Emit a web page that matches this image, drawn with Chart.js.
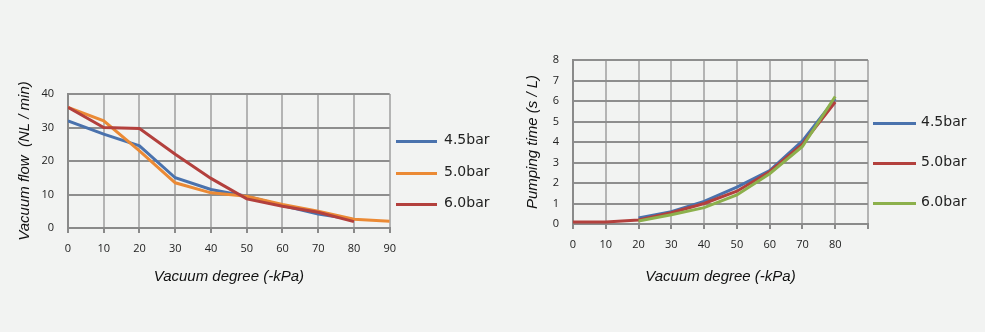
<!DOCTYPE html>
<html lang="en">
<head>
  <meta charset="UTF-8" />
  <title>Vacuum flow / Pumping time</title>
  <style>
    html, body {
      margin: 0; padding: 0;
      width: 985px; height: 332px;
      background: #f2f3f2;
      overflow: hidden; position: relative;
      font-family: 'DejaVu Sans', sans-serif;
    }
    .box { position: absolute; top: 0; height: 300px; }
    #flowBox { left: 0; width: 405px; }
    #timeBox { left: 500px; width: 377px; }
    .legend { position: absolute; font-size: 14px; color: #222; }
    .legend .item { position: absolute; white-space: nowrap; }
    .legend .swatch { position: absolute; top: 0; height: 3px; }
    .legend .label { position: absolute; top: -9px; }
  </style>
  <script src="https://cdn.jsdelivr.net/npm/chart.js"></script>
</head>
<body>
  <div class="box" id="flowBox"><canvas id="flowChart"></canvas></div>
  <div class="box" id="timeBox"><canvas id="timeChart"></canvas></div>
  <div class="legend" id="flowLegend"></div>
  <div class="legend" id="timeLegend"></div>

  <script>
    // ─── Data ────────────────────────────────────────────
    const kpa = [0, 10, 20, 30, 40, 50, 60, 70, 80, 90];

    // left: vacuum flow (NL/min)
    const flowNames  = ['4.5bar', '5.0bar', '6.0bar'];
    const flowColors = ['#4a72ad', '#eb8a35', '#b3403d'];
    const flow45 = [32, 28, 24.5, 15, 11.5, 9.5, 6.7, 4.2, 2.5, null];
    const flow50 = [36, 32, 23, 13.5, 10.5, 9.5, 7, 5, 2.6, 2];
    const flow60 = [36, 30, 29.7, 22, 14.8, 8.7, 6.5, 4.7, 1.9, null];

    // right: pumping time (s/L)
    const timeNames  = ['4.5bar', '5.0bar', '6.0bar'];
    const timeColors = ['#4a72ad', '#b3403d', '#8cb04c'];
    const time45 = [null, null, 0.3, 0.6, 1.1, 1.8, 2.6, 4.05, 6.1];
    const time50 = [0.1, 0.1, 0.2, 0.55, 1.0, 1.6, 2.55, 3.9, 5.95];
    const time60 = [null, null, 0.15, 0.45, 0.8, 1.42, 2.45, 3.78, 6.22];

    const tickFont  = { family: "'Open Sans', sans-serif", size: 11 };
    const titleFont = { family: "'Liberation Sans', sans-serif", size: 15, style: 'italic' };

    const pts = vals => vals.map((v, i) => ({ x: kpa[i], y: v }));

    function makeDatasets(names, colors, series) {
      return series.map((vals, i) => ({
        label: names[i],
        data: pts(vals),
        borderColor: colors[i],
        backgroundColor: colors[i],
        borderWidth: 3,
        pointRadius: 0,
        tension: 0,
        order: series.length - i   // last series drawn on top
      }));
    }

    function makeChart(id, datasets, o) {
      return new Chart(document.getElementById(id), {
        type: 'line',
        data: { datasets },
        options: {
          responsive: true,
          maintainAspectRatio: false,
          animation: false,
          layout: { padding: { top: o.top, right: o.right, left: 0, bottom: 0 } },
          plugins: { legend: { display: false }, tooltip: { enabled: false } },
          scales: {
            x: {
              type: 'linear', min: 0, max: 90,
              afterFit: s => { s.height = o.xHeight; },
              ticks: {
                stepSize: 10, color: '#222', font: tickFont, padding: 9,
                maxRotation: 0,
                callback: v => (v <= o.lastTick ? v : '')
              },
              grid: { color: '#b4b4b4', lineWidth: 2, tickLength: 5, tickColor: '#8a8a8a' },
              border: { color: '#8a8a8a', width: 2 },
              title: { display: true, text: 'Vacuum degree (-kPa)', color: '#111',
                       font: titleFont, padding: { top: 0, bottom: 14 } }
            },
            y: {
              min: 0, max: o.yMax,
              afterFit: s => { s.width = o.yWidth; },
              ticks: { stepSize: o.yStep, color: '#222', font: tickFont, padding: 14 },
              grid: { color: '#8e8e8e', lineWidth: 2, drawTicks: false },
              border: { color: '#8a8a8a', width: 2 },
              title: { display: true, text: o.yTitle, color: '#111',
                       font: titleFont, padding: { top: o.yTitlePad, bottom: 0 } }
            }
          }
        }
      });
    }

    function makeLegend(id, names, colors, o) {
      const el = document.getElementById(id);
      names.forEach((n, i) => {
        const item = document.createElement('div');
        item.className = 'item';
        item.style.left = o.x + 'px';
        item.style.top = o.ys[i] + 'px';
        item.innerHTML =
          `<div class="swatch" style="left:0;width:${o.len}px;background:${colors[i]}"></div>` +
          `<div class="label" style="left:${o.gap}px">${n}</div>`;
        el.appendChild(item);
      });
    }

    makeChart('flowChart',
      makeDatasets(flowNames, flowColors, [flow45, flow50, flow60]),
      { top: 94, right: 0, xHeight: 72, yWidth: 68, yMax: 40, yStep: 10,
        lastTick: 90, yTitle: 'Vacuum flow  (NL / min)', yTitlePad: 16 });

    makeChart('timeChart',
      makeDatasets(timeNames, timeColors, [time45, time50, time60]),
      { top: 60, right: 8, xHeight: 76, yWidth: 73, yMax: 8, yStep: 1,
        lastTick: 80, yTitle: 'Pumping time (s / L)', yTitlePad: 24 });

    makeLegend('flowLegend', flowNames, flowColors, { x: 396, ys: [140, 172, 203], len: 41, gap: 48 });
    makeLegend('timeLegend', timeNames, timeColors, { x: 873, ys: [122, 162, 202], len: 43, gap: 48 });
  </script>
</body>
</html>
